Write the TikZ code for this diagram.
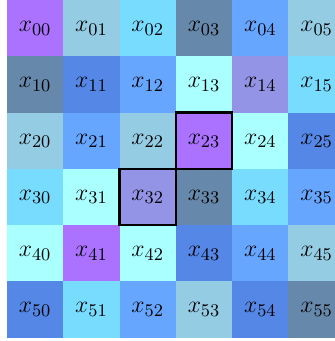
\documentclass[tikz,border=0pt]{standalone}
\usetikzlibrary{positioning}
\definecolor{gdpurple}{HTML}{AA72FF}
\definecolor{gdgray}{HTML}{94CCE4}
\definecolor{gdcyan}{HTML}{78DCFF}
\definecolor{gdslate}{HTML}{6688AA}
\definecolor{gdmid}{HTML}{66A6FF}
\definecolor{gdroyal}{HTML}{5587E6}
\definecolor{gdpale}{HTML}{AAFFFF}
\definecolor{gdlav}{HTML}{9494E6}
\tikzset{
  gd cell/.style={minimum width=1cm, minimum height=1cm, inner sep=0pt, outer sep=0pt,
    font=\fontsize{13}{15}\selectfont},
  gd mark/.style={draw=black, line width=1.2pt}
}

\begin{document}
\begin{tikzpicture}[x=1cm, y=1cm]
  \useasboundingbox (-0.124,-0.057) rectangle (5.826,6);
  \clip (-0.124,-0.057) rectangle (5.826,6);
  \foreach \r/\row in {
      0/{gdpurple,gdgray,gdcyan,gdslate,gdmid,gdgray},
      1/{gdslate,gdroyal,gdmid,gdpale,gdlav,gdcyan},
      2/{gdgray,gdmid,gdgray,gdpurple,gdpale,gdroyal},
      3/{gdcyan,gdpale,gdlav,gdslate,gdcyan,gdmid},
      4/{gdpale,gdpurple,gdpale,gdroyal,gdmid,gdgray},
      5/{gdroyal,gdcyan,gdmid,gdgray,gdroyal,gdslate}} {
    \foreach \col [count=\c from 0] in \row {
      \node[gd cell, fill=\col] (c\r\c) at (\c+0.5,5.5-\r) {$x_{\r\c}$};
    }
  }
  % highlighted cells
  \draw[gd mark] (c23.south west) rectangle (c23.north east);
  \draw[gd mark] (c32.south west) rectangle (c32.north east);
\end{tikzpicture}
\end{document}
